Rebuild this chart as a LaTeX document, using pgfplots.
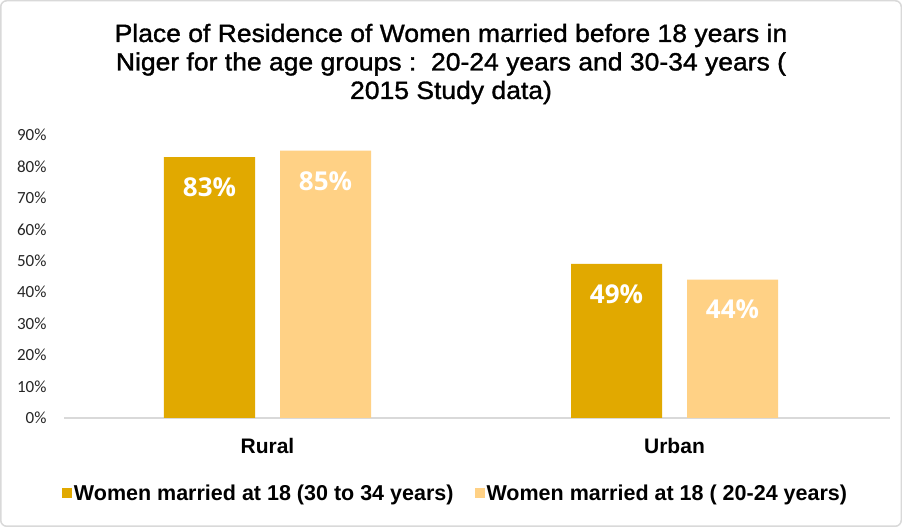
\documentclass[border=0pt]{standalone}
\usepackage{fontspec}
\setmainfont{Carlito}
\newfontfamily\titlefont[FakeBold=1.3, FakeStretch=1.06]{Liberation Sans}
\newfontfamily\headfont{Liberation Sans}
\newfontfamily\barfont{Open Sans}
\usepackage{pgfplots}
\pgfplotsset{compat=1.18}
\definecolor{darkgold}{HTML}{E1A900}
\definecolor{lightgold}{HTML}{FFD185}
\definecolor{framegray}{HTML}{D9D9D9}
\begin{document}
\begin{tikzpicture}[x=1pt,y=1pt]
  % frame of the chart
  \draw[framegray, line width=1.5pt, rounded corners=6pt, fill=white]
    (0.75,0.75) rectangle (901.25,526.25);
  \node[align=center, font=\titlefont\fontsize{25}{28.5}\selectfont] at (451,463)
    {Place of Residence of Women married before 18 years in\\
     Niger for the age groups :\ \ 20-24 years and 30-34 years (\\
     2015 Study data)};
  \begin{axis}[
      at={(64pt,109pt)}, anchor=south west,
      scale only axis, width=826pt, height=283pt,
      xmin=-0.5, xmax=1.5295,
      ymin=0, ymax=90,
      ybar, bar width=91pt,
      axis lines*=left,
      y axis line style={draw=none},
      x axis line style={framegray, line width=1.5pt},
      major tick length=0pt,
      xtick={0,1}, xticklabels={Rural,Urban},
      xticklabel style={font=\headfont\bfseries\fontsize{21}{24}\selectfont, yshift=-17pt},
      ytick={0,10,...,90},
      yticklabels={0\%,10\%,20\%,30\%,40\%,50\%,60\%,70\%,80\%,90\%},
      yticklabel style={font=\fontsize{17}{18}\selectfont, text=black!85, xshift=-14pt},
      nodes near coords={\pgfmathprintnumber[assume math mode=true]{\pgfplotspointmeta}\%},
      nodes near coords style={font=\barfont\bfseries\fontsize{26}{28}\selectfont,
        text=white, anchor=center, yshift=-30pt},
      legend columns=2,
      legend style={draw=none, fill=none, at={(0.474,-0.265)}, anchor=center,
        font=\headfont\bfseries\fontsize{21.5}{23}\selectfont,
        /tikz/every even column/.append style={column sep=19pt}},
      legend image code/.code={\fill[#1] (0pt,-5pt) rectangle (10pt,5pt);},
    ]
    \addplot[fill=darkgold, draw=none, bar shift=-58pt] coordinates {(0,83) (1,49)};
    \addlegendentry{Women married at 18 (30 to 34 years)}
    \addplot[fill=lightgold, draw=none, bar shift=58pt] coordinates {(0,85) (1,44)};
    \addlegendentry{Women married at 18 ( 20-24 years)}
  \end{axis}
\end{tikzpicture}
\end{document}
